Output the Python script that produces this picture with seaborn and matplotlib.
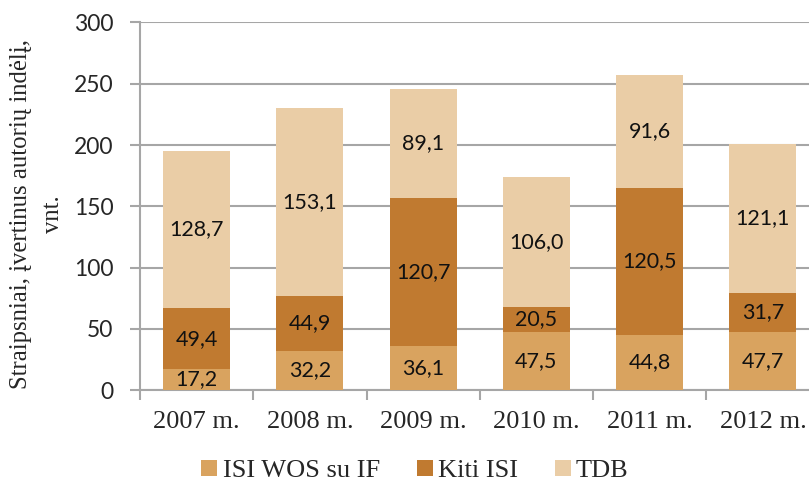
import matplotlib
matplotlib.use("Agg")
import matplotlib.pyplot as plt
import seaborn as sns
import numpy as np
import pandas as pd
from matplotlib.patches import Patch
from matplotlib.ticker import FixedLocator

years = ["2007 m.", "2008 m.", "2009 m.", "2010 m.", "2011 m.", "2012 m."]
isi_wos = [17.2, 32.2, 36.1, 47.5, 44.8, 47.7]
kiti_isi = [49.4, 44.9, 120.7, 20.5, 120.5, 31.7]
tdb = [128.7, 153.1, 89.1, 106.0, 91.6, 121.1]
series_names = ["ISI WOS su IF", "Kiti ISI", "TDB"]
y_ticks = [0, 50, 100, 150, 200, 250, 300]

colors = ["#D9A35F", "#C07A30", "#EACDA6"]
grid_c = "#A6A6A6"

sns.set_style("white")
fig = plt.figure(figsize=(8.09, 4.86), dpi=100)
W, H = 809, 486
ax = fig.add_axes([140 / W, (H - 390) / H, 679.5 / W, 367.5 / H])

bottoms = np.zeros(len(years))
series = [isi_wos, kiti_isi, tdb]
for name, vals, col in zip(series_names, series, colors):
    d = pd.DataFrame({"year": years, "v": vals})
    sns.barplot(data=d, x="year", y="v", color=col, width=0.59, bottom=bottoms,
                ax=ax, saturation=1, linewidth=0, zorder=3)
    for i, v in enumerate(vals):
        ax.text(i, bottoms[i] + v / 2, f"{v:.1f}".replace(".", ","), ha="center",
                va="center", fontsize=15.5, family="Lato", color="#111111", zorder=4)
    bottoms = bottoms + np.array(vals)

ax.set_xlim(-0.5, 5.5)
ax.set_ylim(0, 300)
ax.set_yticks(y_ticks)
ax.set_yticklabels([str(t) for t in y_ticks], family="Lato", fontsize=16.5)
ax.yaxis.grid(True, color=grid_c, linewidth=1.5, zorder=0)
ax.set_axisbelow(True)
for s in ["top", "right"]:
    ax.spines[s].set_visible(False)
for s in ["left", "bottom"]:
    ax.spines[s].set_color(grid_c)
    ax.spines[s].set_linewidth(1.5)
ax.tick_params(axis="y", length=7, width=1.5, color=grid_c, pad=12, left=True, direction="out")
ax.set_xticks(range(len(years)))
ax.set_xticklabels(years, family="Liberation Serif", fontsize=19)
ax.tick_params(axis="x", which="major", length=0, pad=15)
ax.xaxis.set_minor_locator(FixedLocator(np.arange(-0.5, 6, 1)))
ax.tick_params(axis="x", which="minor", length=7, width=1.5, color=grid_c, bottom=True, direction="out")
ax.set_xlabel("")
ax.set_ylabel("Straipsniai, įvertinus autorių indėlį,\nvnt.", family="Liberation Serif",
              fontsize=17.8, linespacing=1.6)
ax.yaxis.set_label_coords(-76 / 679.5, 0.479)

handles = [Patch(facecolor=c, edgecolor="none") for c in colors]
fig.legend(handles, series_names, loc="center", bbox_to_anchor=(0.513, 1 - 471 / H), ncol=3,
           frameon=False, prop={"family": "Liberation Serif", "size": 19},
           handlelength=0.6, handleheight=0.6, handletextpad=0.2, columnspacing=1.4)

fig.savefig("out.png", dpi=100)
